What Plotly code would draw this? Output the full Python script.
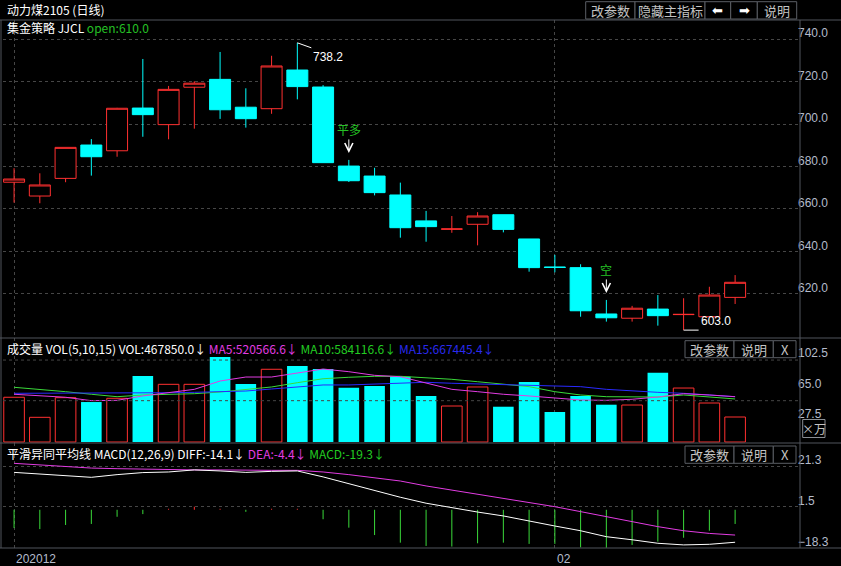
import plotly.graph_objects as go

# ---------------- data ----------------
x_idx = list(range(29))
opens = [672.6, 666.1, 674.4, 690.1, 687.4, 707.5, 699.7, 717.3, 721.0, 707.9,
         707.2, 725.4, 717.4, 680.2, 675.5, 666.6, 654.4, 650.5, 652.8, 657.3,
         645.9, 632.7, 632.4, 610.6, 608.6, 612.9, 610.3, 609.3, 618.4]
highs = [679.2, 676.8, 689.0, 692.9, 707.6, 730.6, 717.9, 720.1, 733.9, 716.8,
         732.1, 738.2, 718.3, 683.1, 679.4, 672.4, 659.1, 656.7, 658.5, 657.3,
         645.9, 638.4, 634.0, 617.2, 614.4, 619.5, 618.0, 623.4, 628.9]
lows = [663.0, 662.7, 672.6, 675.7, 684.6, 694.0, 692.8, 697.8, 702.4, 698.3,
        704.8, 711.6, 681.8, 672.7, 666.4, 646.5, 644.6, 648.8, 642.9, 649.0,
        630.5, 630.2, 609.3, 607.0, 607.0, 605.1, 603.0, 609.3, 615.3]
closes = [674.1, 671.3, 689.0, 684.6, 707.4, 704.4, 716.3, 719.2, 706.7, 702.5,
          727.3, 717.6, 681.8, 673.3, 667.7, 651.2, 651.7, 650.6, 656.7, 650.4,
          632.4, 632.5, 612.1, 608.8, 613.3, 609.8, 610.4, 619.5, 625.5]
# volume in units of 万
volume = [55.3, 30.5, 54.8, 49.4, 54.0, 81.6, 71.3, 71.3, 105.1, 71.7,
          89.9, 93.9, 90.2, 67.1, 69.2, 80.7, 56.9, 44.5, 68.0, 43.6,
          74.2, 37.1, 56.9, 46.1, 45.7, 85.7, 66.7, 48.2, 30.9]
ma5 = [59.0, 56.9, 55.3, 51.1, 51.5, 56.9, 61.4, 65.1, 75.4, 80.3,
       80.3, 84.9, 90.2, 86.9, 82.4, 80.7, 72.6, 65.1, 62.2, 59.0,
       56.9, 54.0, 51.9, 51.5, 52.8, 55.6, 59.7, 58.1, 56.0]
ma10 = [67.6, 65.1, 62.2, 59.0, 56.0, 58.1, 59.0, 59.7, 61.8, 65.1,
        68.0, 73.3, 78.2, 80.0, 81.2, 81.2, 79.5, 77.5, 74.5, 71.7,
        68.4, 62.2, 58.1, 56.0, 55.6, 55.6, 58.1, 56.0, 53.2]
ma15 = [60.2, 60.2, 60.2, 60.2, 60.6, 60.6, 60.9, 61.4, 62.2, 63.0,
        65.5, 68.4, 70.5, 70.5, 71.3, 72.6, 73.8, 72.6, 71.7, 71.3,
        70.5, 69.6, 68.4, 65.1, 63.0, 61.4, 60.2, 58.1, 56.0]
diff = [18.2, 17.3, 16.6, 15.8, 17.1, 18.1, 18.4, 19.4, 18.9, 18.2,
        18.7, 18.9, 16.0, 12.6, 9.3, 6.1, 3.2, 1.0, -1.1, -3.0,
        -5.6, -7.9, -10.2, -13.1, -14.6, -16.3, -17.1, -16.8, -15.8]
dea = [22.6, 21.9, 21.2, 20.3, 20.0, 19.7, 19.4, 19.4, 19.4, 19.2,
       19.2, 19.2, 18.4, 17.1, 15.6, 14.0, 11.6, 9.6, 7.7, 5.6,
       3.6, 1.5, -0.9, -3.4, -5.8, -8.2, -10.2, -11.5, -12.3]
macd = [-8.9, -9.4, -7.4, -6.9, -3.4, -2.1, 0.5, 1.5, 0.5, -1.0,
        0.5, 0.5, -4.6, -8.7, -12.3, -16.0, -17.6, -17.9, -16.3, -16.0,
        -16.6, -16.6, -18.3, -18.5, -17.1, -15.5, -13.6, -10.2, -6.9]
price_ticks = [620, 640, 660, 680, 700, 720, 740]
vol_ticks = [27.5, 65.0, 102.5]
macd_ticks = [-18.3, 1.5, 21.3]
x_tick_pos = [0, 21]
x_tick_text = ["202012", "02"]

# ---------------- style ----------------
W, H = 841, 566
ML, MR, MT, MB = 3, 41, 20, 18
PW = W - ML - MR
PH = H - MT - MB


def px(x):
    return (x - ML) / PW


def py(y):
    return (H - MB - y) / PH


RED = "#ff3030"
CYAN = "#00ffff"
MAG = "#e23ce2"
GRN = "#3ada3a"
BLUE = "#2a2aff"
TXTGREEN = "#25c025"
AXC = "#b4bccc"
SEP = "#50555c"
GRID = "#464646"
FONT = "Liberation Sans, Noto Sans CJK SC"
CJK = "Noto Sans CJK SC, Liberation Sans"

up = [c >= o for o, c in zip(opens, closes)]

fig = go.Figure()

fig.add_trace(go.Candlestick(
    x=x_idx, open=opens, high=highs, low=lows, close=closes,
    increasing=dict(line=dict(color=RED, width=1), fillcolor="#000000"),
    decreasing=dict(line=dict(color=CYAN, width=1), fillcolor=CYAN),
    xaxis="x", yaxis="y", hoverinfo="skip", showlegend=False))

fig.add_trace(go.Bar(
    x=x_idx, y=[v if u else None for v, u in zip(volume, up)], width=0.8,
    marker=dict(color="#000000", line=dict(color=RED, width=1)),
    xaxis="x", yaxis="y2", showlegend=False, hoverinfo="skip"))
fig.add_trace(go.Bar(
    x=x_idx, y=[None if u else v for v, u in zip(volume, up)], width=0.8,
    marker=dict(color=CYAN, line=dict(width=0)),
    xaxis="x", yaxis="y2", showlegend=False, hoverinfo="skip"))
for series, col in ((ma10, GRN), (ma15, BLUE), (ma5, MAG)):
    fig.add_trace(go.Scatter(x=x_idx, y=series, mode="lines",
                             line=dict(color=col, width=1),
                             xaxis="x", yaxis="y2", showlegend=False,
                             hoverinfo="skip"))


def stems(vals, positive):
    xs, ys = [], []
    for i, v in zip(x_idx, vals):
        if (v > 0) == positive:
            xs += [i, i, None]
            ys += [0, v, None]
    return xs, ys


for positive, col in ((False, GRN), (True, RED)):
    sx, sy = stems(macd, positive)
    fig.add_trace(go.Scatter(x=sx, y=sy, mode="lines",
                             line=dict(color=col, width=1),
                             xaxis="x", yaxis="y3", showlegend=False,
                             hoverinfo="skip"))
fig.add_trace(go.Scatter(x=x_idx, y=dea, mode="lines", line=dict(color=MAG, width=1),
                         xaxis="x", yaxis="y3", showlegend=False, hoverinfo="skip"))
fig.add_trace(go.Scatter(x=x_idx, y=diff, mode="lines", line=dict(color="#ffffff", width=1),
                         xaxis="x", yaxis="y3", showlegend=False, hoverinfo="skip"))

tickfont = dict(family=FONT, size=12, color=AXC)
yax_common = dict(side="right", anchor="x", tickformat=".1f", ticks="",
                  showline=False, zeroline=False, tickfont=tickfont,
                  ticklabelshift=-6, ticklabelstandoff=-3,
                  gridcolor=GRID, griddash="dot", gridwidth=1, fixedrange=True)

fig.update_layout(
    width=W, height=H,
    margin=dict(l=ML, r=MR, t=MT, b=MB, pad=0),
    paper_bgcolor="#000000", plot_bgcolor="#000000",
    hovermode=False, showlegend=False,
    boxgap=0.185, boxgroupgap=0, barmode="overlay",
    xaxis=dict(domain=[0, 1], range=[-0.43, 30.52], anchor="y3",
               tickvals=x_tick_pos, showticklabels=False, ticks="",
               showgrid=True, gridcolor=GRID, griddash="dot", gridwidth=1,
               zeroline=False, showline=False,
               rangeslider=dict(visible=False), fixedrange=True),
    yaxis=dict(domain=[py(338), 1], range=[599.29, 748.94],
               tickvals=price_ticks, showgrid=True, **yax_common),
    yaxis2=dict(domain=[py(443), py(338)], range=[-1.24, 128.55],
                tickvals=vol_ticks, showgrid=False, **yax_common),
    yaxis3=dict(domain=[0, py(443)], range=[-18.6, 32.5],
                tickvals=macd_ticks, showgrid=True, **yax_common),
)

shapes = []
# volume panel dotted guide lines
for fy in (0.79, 0.403):
    shapes.append(dict(type="line", xref="paper", yref="y2 domain", x0=0, x1=1,
                       y0=fy, y1=fy, line=dict(color=GRID, width=1, dash="dot")))
# panel separators
for yy in (20, 338, 443, 548):
    shapes.append(dict(type="line", xref="paper", yref="paper", x0=px(0), x1=px(841),
                       y0=py(yy), y1=py(yy), line=dict(color=SEP, width=1)))
for xx in (1, 800):
    shapes.append(dict(type="line", xref="paper", yref="paper", x0=px(xx), x1=px(xx),
                       y0=py(20), y1=py(548), line=dict(color=SEP, width=1)))

annotations = []


def text(x, y, s, color="#ffffff", size=12, family=CJK, xanchor="left"):
    annotations.append(dict(xref="paper", yref="paper", x=px(x), y=py(y), text=s,
                            showarrow=False, xanchor=xanchor, yanchor="middle",
                            font=dict(family=family, size=size, color=color)))


def buttons(items, y0, y1):
    for label, x0, x1 in items:
        shapes.append(dict(type="rect", xref="paper", yref="paper",
                           x0=px(x0), x1=px(x1), y0=py(y1), y1=py(y0),
                           line=dict(color="#5a5e64", width=1), fillcolor="#000000"))
        fam = "DejaVu Sans" if label in ("⬅", "➡") else CJK
        col = "#ffffff" if label in ("⬅", "➡") else "#c4c4c4"
        text((x0 + x1) / 2, (y0 + y1) / 2, label, color=col, size=13, family=fam,
             xanchor="center")


buttons([("改参数", 585.7, 635), ("隐藏主指标", 635, 705), ("⬅", 705, 730.7),
         ("➡", 730.7, 757.3), ("说明", 757.3, 796.7)], 1.7, 19)
buttons([("改参数", 685, 734), ("说明", 734, 773.3), ("X", 773.3, 796)], 340.7, 357.7)
buttons([("改参数", 685, 734), ("说明", 734, 773.3), ("X", 773.3, 796)], 446, 463.3)
shapes.append(dict(type="rect", xref="paper", yref="paper", x0=px(802.7), x1=px(825),
                   y0=py(437.5), y1=py(419.5), line=dict(color="#8a8e94", width=1),
                   fillcolor="#000000"))
text(813.8, 428.5, "×万", color="#c4c4c4", size=12, xanchor="center")

text(5, 10, "动力煤2105 (日线)")
text(5, 28, "集金策略 JJCL <span style='color:%s'>open:610.0</span>" % TXTGREEN)
text(5, 348, "成交量 VOL(5,10,15) VOL:467850.0↓ "
     "<span style='color:%s'>MA5:520566.6↓</span> "
     "<span style='color:%s'>MA10:584116.6↓</span> "
     "<span style='color:%s'>MA15:667445.4↓</span>" % (MAG, "#22cc22", "#2a2aee"))
text(5, 453, "平滑异同平均线 MACD(12,26,9) DIFF:-14.1↓ "
     "<span style='color:%s'>DEA:-4.4↓</span> "
     "<span style='color:%s'>MACD:-19.3↓</span>" % (MAG, "#22cc22"))

# x-axis labels (left aligned at their gridline)
for pos, lab in zip(x_tick_pos, x_tick_text):
    annotations.append(dict(xref="x", yref="paper", x=pos, y=0, text=lab,
                            showarrow=False, xanchor="left", yanchor="top", yshift=-2,
                            font=dict(family=FONT, size=12, color=AXC)))

# extreme price callouts
annotations.append(dict(xref="x", yref="y", x=11, y=highs[11], text="738.2",
                        showarrow=True, arrowhead=0, arrowwidth=1, arrowcolor="#ffffff",
                        ax=14, ay=5, xanchor="left", yanchor="top",
                        font=dict(family=FONT, size=12, color="#ffffff")))
annotations.append(dict(xref="x", yref="y", x=26, y=lows[26], text="603.0",
                        showarrow=True, arrowhead=0, arrowwidth=1, arrowcolor="#ffffff",
                        ax=15, ay=0, xanchor="left", yanchor="bottom",
                        font=dict(family=FONT, size=12, color="#ffffff")))
# trade signals
for idx, lab in ((13, "平多"), (23, "空")):
    annotations.append(dict(xref="x", yref="y", x=idx, y=highs[idx], text=lab,
                            showarrow=False, yshift=30, xanchor="center",
                            font=dict(family=CJK, size=12, color=TXTGREEN)))
    annotations.append(dict(xref="x", yref="y", x=idx, y=highs[idx], text="",
                            showarrow=True, arrowhead=5, arrowsize=1.6, arrowwidth=1,
                            arrowcolor="#ffffff", ax=0, ay=-22, standoff=7))

fig.update_layout(shapes=shapes, annotations=annotations)
fig.write_html("out.html", config={"displayModeBar": False})
